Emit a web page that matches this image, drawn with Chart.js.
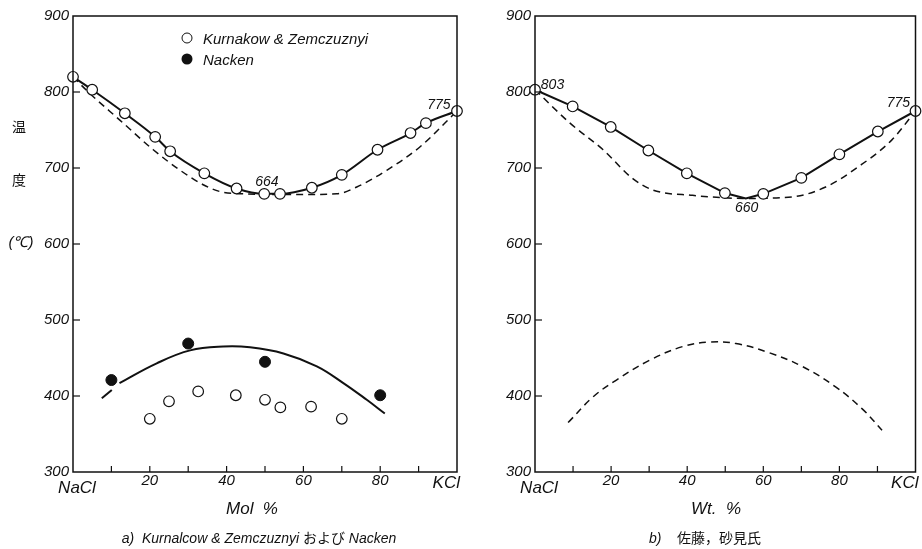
<!DOCTYPE html>
<html><head><meta charset="utf-8">
<script src="https://cdn.jsdelivr.net/npm/chart.js@4.4.0/dist/chart.umd.min.js"></script>
<style>
body{margin:0;background:#fff;}
#wrap{position:relative;width:922px;height:549px;overflow:hidden;font-family:'Liberation Sans',Arial,sans-serif;color:#111;background:#fff}
canvas{position:absolute;top:0;left:0}
.t{position:absolute;white-space:nowrap;transform:translate(-50%,-50%);line-height:1}
.i{font-style:italic}
.cjk{font-family:'Noto Sans CJK JP',sans-serif;font-style:normal}
.lg{position:absolute;white-space:nowrap;font-style:italic;font-size:15px;transform:translateY(-50%)}
.dot{position:absolute;width:11px;height:11px;border-radius:50%;box-sizing:border-box;transform:translate(-50%,-50%)}
</style></head><body>
<div id="wrap">
<canvas id="c1" width="922" height="549"></canvas>
<canvas id="c2" width="922" height="549"></canvas>

<div class="t cjk" style="left:19px;top:126px;font-size:14px">温</div>
<div class="t cjk" style="left:19px;top:179px;font-size:14px">度</div>
<div class="t" style="left:21px;top:241px;font-size:15px;font-style:italic">(℃)</div>

<div class="dot" style="left:187px;top:38px;border:1.3px solid #111;background:#fff"></div>
<div class="lg" style="left:203px;top:38px">Kurnakow &amp; Zemczuznyi</div>
<div class="dot" style="left:187px;top:59px;background:#111"></div>
<div class="lg" style="left:203px;top:59px">Nacken</div>

<div class="t i" style="left:252px;top:508px;font-size:17px">Mol&nbsp;&nbsp;%</div>
<div class="t i" style="left:259px;top:537px;font-size:14px">a)&nbsp; Kurnalcow &amp; Zemczuznyi <span class="cjk">および</span> Nacken</div>
<div class="t i" style="left:716px;top:508px;font-size:17px">Wt.&nbsp;&nbsp;%</div>
<div class="t i" style="left:705px;top:537px;font-size:14px">b)&nbsp;&nbsp;&nbsp; <span class="cjk">佐藤，砂見氏</span></div>
</div>
<script>
// ---- Data: left panel (Mol %) ----
const molLiqX = [0,5,13.5,21.4,25.3,34.2,42.6,49.8,53.9,62.2,70,79.3,87.9,91.9,100];
const molLiqT = [820,803,772,741,722,693,673,666,666,674,691,724,746,759,775];
const molSolX = [0,4.4,12.2,20.9,27.9,33.9,38.3,44.4,56,68.7,73.9,81.7,90.4,100];
const molSolT = [820,798,763,724,697,678,669,666,665,666,675,697,728,775];
const nackenX = [10,30,50,80];
const nackenT = [421,469,445,401];
const molLowX = [20,25,32.6,42.4,50,54,62,70];
const molLowT = [370,393,406,401,395,385,386,370];
const molCurveAX = [7.5,10.1];
const molCurveAT = [397,408];
const molCurveBX = [12.1,21.8,30.5,39.1,46.1,54.8,63.5,70.4,76.5,81.2];
const molCurveBT = [417,443,460,465,464,456,439,417,395,377];
// ---- Data: right panel (Wt. %) ----
const wtLiqX = [0,9.9,19.9,29.8,39.9,49.9,55.4,60,70,80,90.1,100];
const wtLiqT = [803,781,754,723,693,667,660,666,687,718,748,775];
const wtLiqMarker = [1,1,1,1,1,1,0,1,1,1,1,1];
const wtSolX = [0,9.2,17.9,25.7,31,41.4,55.4,67.6,76.4,85.1,93.8,100];
const wtSolT = [803,759,724,686,671,664,660,662,675,702,737,775];
const wtLowX = [8.7,15.3,21.4,30.1,38.8,45.8,52.8,61.5,70.2,79,86,91.2];
const wtLowT = [365,399,421,447,465,471,469,457,439,412,383,355];
// ---- Ticks / annotations ----
const xTickLabels = {0:'NaCl',20:'20',40:'40',60:'60',80:'80',100:'KCl'};
const molNotes = [{x:50.5,y:682,text:'664'},{x:95.3,y:783,text:'775'}];
const wtNotes = [{x:4.6,y:809,text:'803'},{x:95.5,y:785,text:'775'},{x:55.6,y:647,text:'660'}];

const pts = (xs,ys)=>xs.map((v,i)=>({x:v,y:ys[i]}));
const INK = '#111';
const FONTFAM = '"Liberation Sans", Arial, sans-serif';

const framePlugin = {
  id:'frame',
  afterDraw(chart, args, opts){
    const {ctx, chartArea:a, scales:{x,y}} = chart;
    ctx.save();
    ctx.strokeStyle = INK; ctx.lineWidth = 1.5;
    ctx.strokeRect(a.left, a.top, a.right-a.left, a.bottom-a.top);
    ctx.lineWidth = 1.2;
    x.ticks.forEach(t=>{
      if(t.value>0 && t.value<100){
        const px = x.getPixelForValue(t.value);
        ctx.beginPath(); ctx.moveTo(px,a.bottom); ctx.lineTo(px,a.bottom-6); ctx.stroke();
      }
    });
    y.ticks.forEach(t=>{
      if(t.value>300 && t.value<900){
        const py = y.getPixelForValue(t.value);
        ctx.beginPath(); ctx.moveTo(a.left,py); ctx.lineTo(a.left+7,py); ctx.stroke();
      }
    });
    ctx.fillStyle = INK;
    ctx.textBaseline = 'middle';
    x.ticks.forEach(t=>{
      const lab = xTickLabels[t.value];
      if(lab===undefined) return;
      const px = x.getPixelForValue(t.value);
      if(t.value===0){
        ctx.font = 'italic 17px ' + FONTFAM; ctx.textAlign='center';
        ctx.fillText(lab, px+4, a.bottom+16);
      } else if(t.value===100){
        ctx.font = 'italic 17px ' + FONTFAM; ctx.textAlign='right';
        ctx.fillText(lab, px+3, a.bottom+11);
      } else {
        ctx.font = 'italic 15px ' + FONTFAM; ctx.textAlign='center';
        ctx.fillText(lab, px, a.bottom+9);
      }
    });
    ctx.font = 'italic 14px ' + FONTFAM;
    ctx.textAlign = 'center';
    (opts.notes||[]).forEach(n=>{
      ctx.fillText(n.text, x.getPixelForValue(n.x), y.getPixelForValue(n.y));
    });
    ctx.restore();
  }
};

function makeChart(id, datasets, pad, yWidth, notes){
  return new Chart(document.getElementById(id), {
    type:'scatter',
    data:{datasets},
    options:{
      responsive:false, animation:false,
      layout:{padding:pad},
      plugins:{legend:{display:false}, tooltip:{enabled:false}, frame:{notes}},
      scales:{
        x:{type:'linear', min:0, max:100,
          grid:{display:false, drawTicks:false}, border:{display:false},
          ticks:{stepSize:10, autoSkip:false, maxRotation:0, color:'rgba(0,0,0,0)',
            callback:v=>''},
          afterFit:s=>{s.height=77; s.paddingLeft=0; s.paddingRight=0;}
        },
        y:{type:'linear', min:300, max:900,
          grid:{display:false, drawTicks:false}, border:{display:false},
          ticks:{stepSize:100, padding:4, color:INK,
            font:{size:15, style:'italic', family:FONTFAM}},
          afterFit:s=>{s.width=yWidth; s.paddingTop=0; s.paddingBottom=0;}
        }
      }
    },
    plugins:[framePlugin]
  });
}

const openPt = {pointRadius:5.3, pointBackgroundColor:'#fff', pointBorderColor:INK, pointBorderWidth:1.2};

makeChart('c1', [
  Object.assign({data:pts(molLiqX,molLiqT), showLine:true, borderColor:INK, borderWidth:2, cubicInterpolationMode:'monotone', clip:false}, openPt),
  Object.assign({data:pts(molLowX,molLowT), showLine:false, clip:false}, openPt),
  {data:pts(nackenX,nackenT), showLine:false, pointRadius:5.5, pointBackgroundColor:INK, pointBorderColor:INK, clip:false},
  {data:pts(molSolX,molSolT), showLine:true, borderColor:INK, borderWidth:1.5, borderDash:[7,5], pointRadius:0, cubicInterpolationMode:'monotone', clip:false},
  {data:pts(molCurveAX,molCurveAT), showLine:true, borderColor:INK, borderWidth:2, pointRadius:0, clip:false},
  {data:pts(molCurveBX,molCurveBT), showLine:true, borderColor:INK, borderWidth:2, pointRadius:0, tension:0.4, clip:false}
], {left:0, right:465, top:16, bottom:0}, 73, molNotes);

makeChart('c2', [
  Object.assign({data:pts(wtLiqX,wtLiqT), showLine:true, borderColor:INK, borderWidth:2, tension:0, clip:false}, openPt,
    {pointRadius:wtLiqMarker.map(m=>m?5.3:0)}),
  {data:pts(wtSolX,wtSolT), showLine:true, borderColor:INK, borderWidth:1.5, borderDash:[7,5], pointRadius:0, cubicInterpolationMode:'monotone', clip:false},
  {data:pts(wtLowX,wtLowT), showLine:true, borderColor:INK, borderWidth:1.5, borderDash:[7,5], pointRadius:0, tension:0.4, clip:false}
], {left:460, right:5, top:16, bottom:0}, 75, wtNotes);
</script>
</body></html>
